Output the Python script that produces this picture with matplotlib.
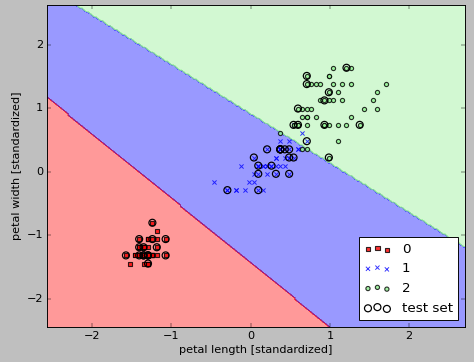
import numpy as np
import matplotlib
matplotlib.use("Agg")
import matplotlib.pyplot as plt
from matplotlib.colors import ListedColormap

plt.style.use("classic")

# Iris petal measurements (cm), classes 0/1/2
petal_length = [
    1.4, 1.4, 1.3, 1.5, 1.4, 1.7, 1.4, 1.5, 1.4, 1.5,
    1.5, 1.6, 1.4, 1.1, 1.2, 1.5, 1.3, 1.4, 1.7, 1.5,
    1.7, 1.5, 1.0, 1.7, 1.9, 1.6, 1.6, 1.5, 1.4, 1.6,
    1.6, 1.5, 1.5, 1.4, 1.5, 1.2, 1.3, 1.5, 1.3, 1.5,
    1.3, 1.3, 1.3, 1.6, 1.9, 1.4, 1.6, 1.4, 1.5, 1.4,
    4.7, 4.5, 4.9, 4.0, 4.6, 4.5, 4.7, 3.3, 4.6, 3.9,
    3.5, 4.2, 4.0, 4.7, 3.6, 4.4, 4.5, 4.1, 4.5, 3.9,
    4.8, 4.0, 4.9, 4.7, 4.3, 4.4, 4.8, 5.0, 4.5, 3.5,
    3.8, 3.7, 3.9, 5.1, 4.5, 4.5, 4.7, 4.4, 4.1, 4.0,
    4.4, 4.6, 4.0, 3.3, 4.2, 4.2, 4.2, 4.3, 3.0, 4.1,
    6.0, 5.1, 5.9, 5.6, 5.8, 6.6, 4.5, 6.3, 5.8, 6.1,
    5.1, 5.3, 5.5, 5.0, 5.1, 5.3, 5.5, 6.7, 6.9, 5.0,
    5.7, 4.9, 6.7, 4.9, 5.7, 6.0, 4.8, 4.9, 5.6, 5.8,
    6.1, 6.4, 5.6, 5.1, 5.6, 6.1, 5.6, 5.5, 4.8, 5.4,
    5.6, 5.1, 5.1, 5.9, 5.7, 5.2, 5.0, 5.2, 5.4, 5.1,
]
petal_width = [
    0.2, 0.2, 0.2, 0.2, 0.2, 0.4, 0.3, 0.2, 0.2, 0.1,
    0.2, 0.2, 0.1, 0.1, 0.2, 0.4, 0.4, 0.3, 0.3, 0.3,
    0.2, 0.4, 0.2, 0.5, 0.2, 0.2, 0.4, 0.2, 0.2, 0.2,
    0.2, 0.4, 0.1, 0.2, 0.1, 0.2, 0.2, 0.1, 0.2, 0.2,
    0.3, 0.3, 0.2, 0.6, 0.4, 0.3, 0.2, 0.2, 0.2, 0.2,
    1.4, 1.5, 1.5, 1.3, 1.5, 1.3, 1.6, 1.0, 1.3, 1.4,
    1.0, 1.5, 1.0, 1.4, 1.3, 1.4, 1.5, 1.0, 1.5, 1.1,
    1.8, 1.3, 1.5, 1.2, 1.3, 1.4, 1.4, 1.7, 1.5, 1.0,
    1.1, 1.0, 1.2, 1.6, 1.5, 1.6, 1.5, 1.3, 1.3, 1.3,
    1.2, 1.4, 1.2, 1.0, 1.3, 1.2, 1.3, 1.3, 1.1, 1.3,
    2.5, 1.9, 2.1, 1.8, 2.2, 2.1, 1.7, 1.8, 1.8, 2.5,
    2.0, 1.9, 2.1, 2.0, 2.4, 2.3, 1.8, 2.2, 2.3, 1.5,
    2.3, 2.0, 2.0, 1.8, 2.1, 1.8, 1.8, 1.8, 2.1, 1.6,
    1.9, 2.0, 2.2, 1.5, 1.4, 2.3, 2.4, 1.8, 1.8, 2.1,
    2.4, 2.3, 1.9, 2.3, 2.5, 2.3, 1.9, 2.0, 2.3, 1.8,
]
labels = [0] * 50 + [1] * 50 + [2] * 50

# indices of the samples that form the (circled) test set
test_indices = [114, 62, 33, 107, 7, 100, 40, 86, 76, 71, 134, 51, 73, 54, 63,
                37, 78, 90, 45, 16, 121, 66, 24, 8, 126, 22, 44, 97, 93, 26,
                137, 84, 27, 127, 132, 59, 18, 83, 61, 92, 112, 2, 141, 43, 10]

# linear decision boundaries (standardized units): y = intercept + slope * x
boundary_01 = (-1.436, -1.014)   # between class 0 and class 1
boundary_12 = (0.915, -0.777)    # between class 1 and class 2

class_names = ["0", "1", "2"]
markers = ["s", "x", "o"]
colors = ["red", "blue", "lightgreen"]

X = np.column_stack([petal_length, petal_width])
y = np.array(labels)
train_mask = np.ones(len(y), bool)
train_mask[test_indices] = False
mu = X[train_mask].mean(axis=0)
sd = X[train_mask].std(axis=0)
Xs = (X - mu) / sd

DPI = 67.5
fig = plt.figure(figsize=(474 / DPI, 362 / DPI), dpi=DPI, facecolor="0.75")
ax = fig.add_axes([46.7 / 474, 1 - 327 / 362, (465 - 46.7) / 474, (327 - 4.7) / 362])

res = 0.02
x1 = np.arange(Xs[:, 0].min() - 1, Xs[:, 0].max() + 1, res)
x2 = np.arange(Xs[:, 1].min() - 1, Xs[:, 1].max() + 1, res)
xx1, xx2 = np.meshgrid(x1, x2)
Z = np.ones_like(xx1)
Z[xx2 < boundary_01[0] + boundary_01[1] * xx1] = 0
Z[xx2 > boundary_12[0] + boundary_12[1] * xx1] = 2
cmap = ListedColormap(colors)
ax.contourf(xx1, xx2, Z, alpha=0.4, cmap=cmap)
ax.set_xlim(xx1.min(), xx1.max())
ax.set_ylim(xx2.min(), xx2.max())

for idx in range(3):
    sel = y == idx
    kw = {}
    if markers[idx] != "x":
        kw["edgecolors"] = "black"
        kw["linewidths"] = 1.2
    ax.scatter(Xs[sel, 0], Xs[sel, 1], alpha=0.8, color=colors[idx],
               marker=markers[idx], label=class_names[idx], s=20, **kw)

Xt = Xs[test_indices]
ax.scatter(Xt[:, 0], Xt[:, 1], facecolors="none", edgecolors="black",
           alpha=1.0, linewidths=1.3, marker="o", s=55, label="test set")

ax.set_xlabel("petal length [standardized]")
ax.set_ylabel("petal width [standardized]")
ax.legend(loc="lower right", scatterpoints=3)

fig.savefig("out.png", dpi=DPI, facecolor="0.75")
